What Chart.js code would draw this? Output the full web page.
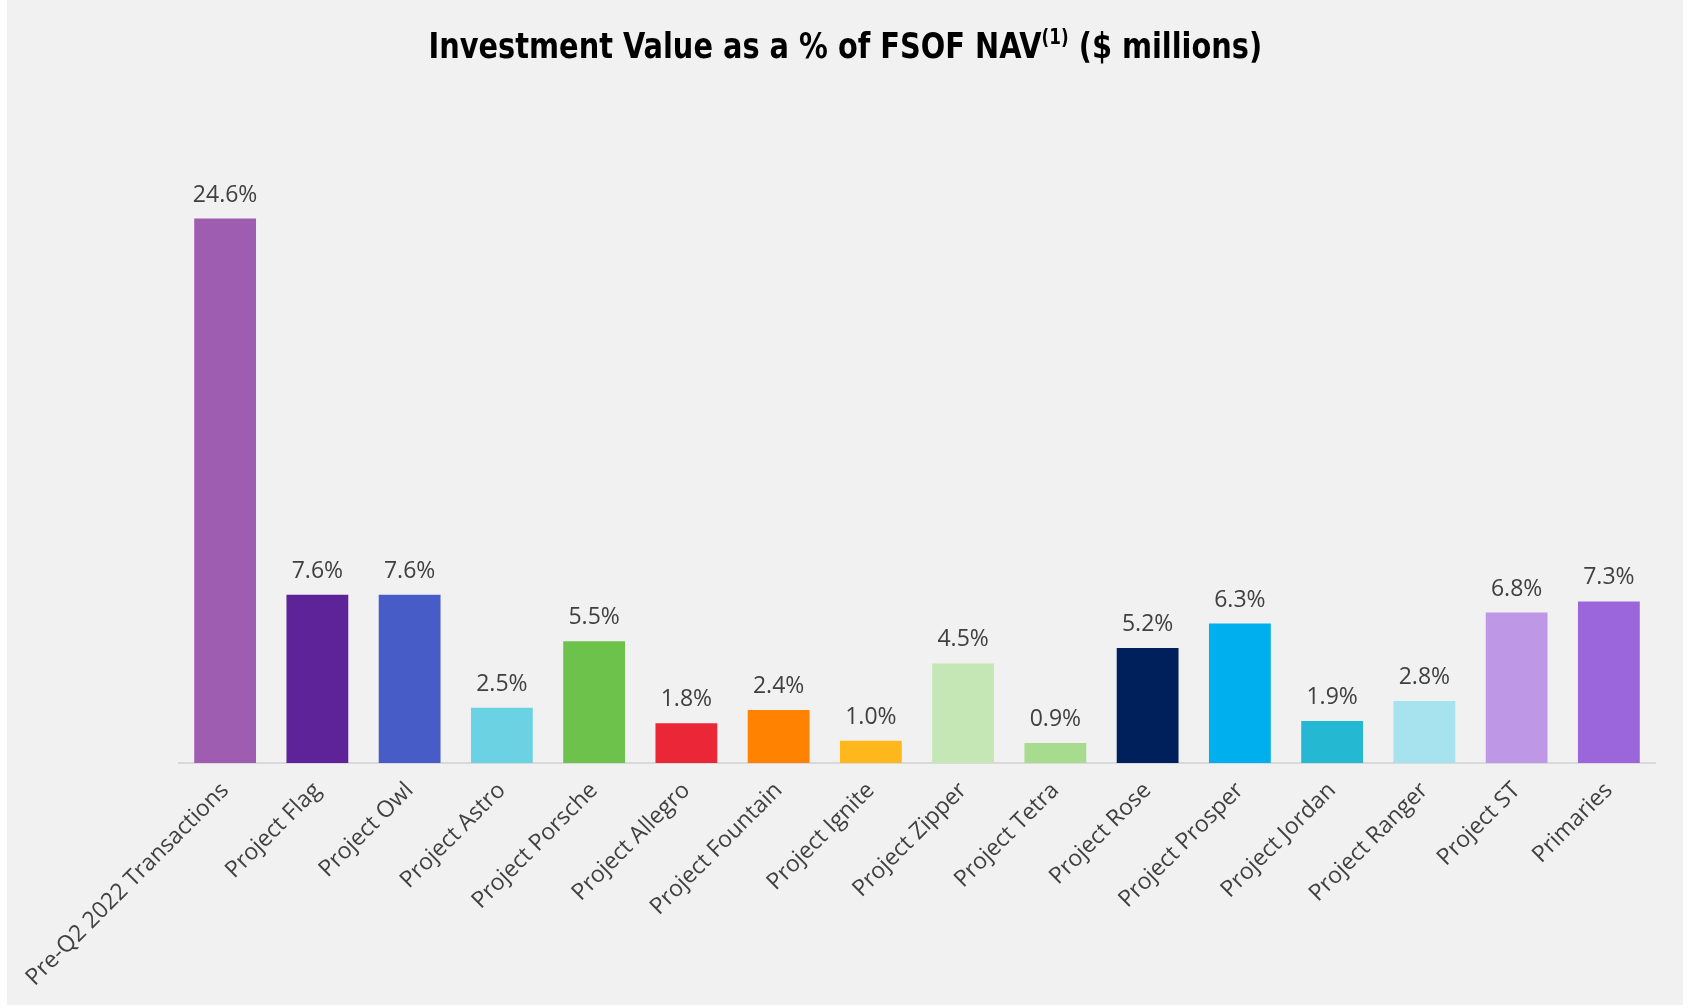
<!DOCTYPE html>
<html>
<head>
<meta charset="utf-8">
<script src="https://cdn.jsdelivr.net/npm/chart.js@4.4.0/dist/chart.umd.min.js"></script>
<style>
  html, body { margin: 0; padding: 0; background: #ffffff; }
  #wrap { position: absolute; left: 7px; top: 0; width: 1676px; height: 1005px; background: #f1f1f1; }
  #title { position: absolute; left: 0; width: 1676px; top: 23px; text-align: center;
    font-family: "DejaVu Sans Condensed", "Liberation Sans", sans-serif; font-weight: bold;
    font-size: 36px; color: #000; line-height: 46px; }
  #title span { display: inline-block; transform: scaleX(0.89); transform-origin: center; white-space: nowrap; }
  #title sup { font-size: 21px; vertical-align: 14px; line-height: 0; }
  canvas { position: absolute; left: 0; top: 0; }
</style>
</head>
<body>
<div id="wrap">
  <canvas id="Chart1" width="1676" height="1005"></canvas>
  <div id="title"><span>Investment Value as a % of FSOF NAV<sup>(1)</sup> ($ millions)</span></div>
</div>
<script>
var labels = ["Pre-Q2 2022 Transactions", "Project Flag", "Project Owl", "Project Astro", "Project Porsche",
  "Project Allegro", "Project Fountain", "Project Ignite", "Project Zipper", "Project Tetra",
  "Project Rose", "Project Prosper", "Project Jordan", "Project Ranger", "Project ST", "Primaries"];
var values = [24.6, 7.6, 7.6, 2.5, 5.5, 1.8, 2.4, 1.0, 4.5, 0.9, 5.2, 6.3, 1.9, 2.8, 6.8, 7.3];
var colors = ["#9F5DB2", "#5E2299", "#475CC6", "#6AD2E3", "#6CC24A", "#EB2637", "#FF8200", "#FFB81C",
  "#C5E6B5", "#A7DB8E", "#00205B", "#00B0EE", "#24B8D3", "#A6E3EE", "#BE98E6", "#9B66DB"];

// labels over the bars
var valueLabels = {
  id: 'valueLabels',
  afterDatasetsDraw: function(chart) {
    var ctx = chart.ctx;
    var meta = chart.getDatasetMeta(0);
    ctx.save();
    ctx.font = '23px "Open Sans", sans-serif';
    ctx.fillStyle = '#404040';
    ctx.textAlign = 'center';
    ctx.textBaseline = 'bottom';
    meta.data.forEach(function(bar, i) {
      ctx.fillText(values[i].toFixed(1) + '%', bar.x, bar.y - 12);
    });
    ctx.restore();
  }
};

var ctx = document.getElementById("Chart1").getContext('2d');
var myChart = new Chart(ctx, {
  type: 'bar',
  data: {
    labels: labels,
    datasets: [{
      data: values,
      backgroundColor: colors,
      categoryPercentage: 1.0,
      barPercentage: 0.67
    }]
  },
  plugins: [valueLabels],
  options: {
    responsive: false,
    animation: false,
    layout: { padding: { left: 172, right: 28, top: 99, bottom: 0 } },
    plugins: {
      legend: { display: false },
      tooltip: { enabled: false }
    },
    scales: {
      x: {
        grid: { display: false, drawTicks: false },
        border: { display: true, color: '#d9d9d9', width: 2 },
        ticks: {
          color: '#404040',
          font: { family: '"Open Sans", sans-serif', size: 23 },
          minRotation: 45,
          maxRotation: 45,
          autoSkip: false,
          padding: 14
        },
        afterFit: function(scale) {
          scale.height = 242;
          scale.paddingLeft = 0;
          scale.paddingRight = 0;
        }
      },
      y: {
        display: false,
        min: 0,
        max: 30
      }
    }
  }
});
</script>
</body>
</html>
